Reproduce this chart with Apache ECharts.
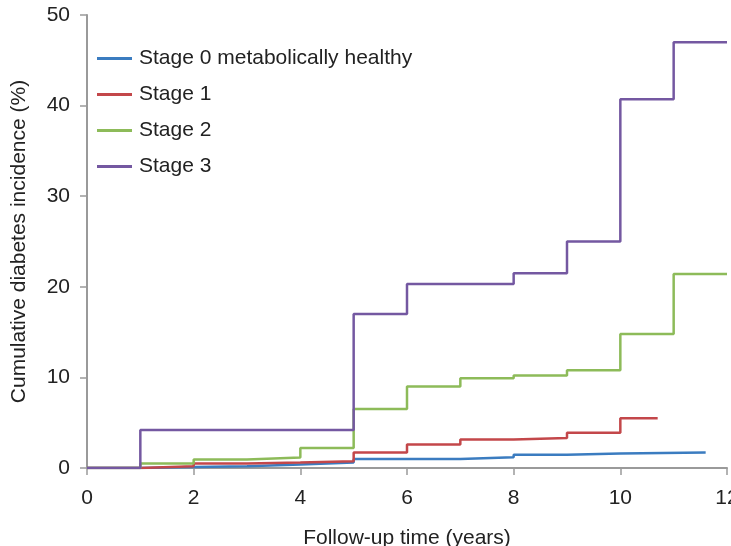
<!DOCTYPE html>
<html><head><meta charset="utf-8">
<script src="https://cdn.jsdelivr.net/npm/echarts@6/dist/echarts.min.js"></script>
<style>html,body{margin:0;padding:0;background:#fff;overflow:hidden}#c{width:731px;height:546px}</style>
</head><body><div id="c"></div>
<script>
var seriesNames = ['Stage 0 metabolically healthy', 'Stage 1', 'Stage 2', 'Stage 3'];
var stage0Times = [0, 1, 2, 3, 4, 5, 6, 7, 8, 9, 10, 11.6];
var stage0Values = [0, 0.1, 0.2, 0.4, 0.6, 1.0, 1.0, 1.2, 1.45, 1.6, 1.7, 1.7];
var stage1Times = [0, 1, 2, 3, 4, 5, 6, 7, 8, 9, 10, 10.7];
var stage1Values = [0, 0.2, 0.5, 0.6, 0.75, 1.7, 2.6, 3.15, 3.3, 3.9, 5.5, 5.5];
var stage2Times = [0, 1, 2, 3, 4, 5, 6, 7, 8, 9, 10, 11, 12];
var stage2Values = [0, 0.5, 0.95, 1.15, 2.2, 6.5, 9.0, 9.9, 10.2, 10.8, 14.8, 21.4, 21.4];
var stage3Times = [0, 1, 5, 6, 8, 9, 10, 11, 12];
var stage3Values = [0, 4.2, 17.0, 20.3, 21.5, 25.0, 40.7, 47.0, 47.0];
var colors = ['#3b7cc0', '#c3474a', '#8dbb59', '#7458a1'];
var xTicks = [0, 2, 4, 6, 8, 10, 12];
var yTicks = [0, 10, 20, 30, 40, 50];

function pairs(t, v) { return t.map(function (x, i) { return [x, v[i]]; }); }
var allT = [stage0Times, stage1Times, stage2Times, stage3Times];
var allV = [stage0Values, stage1Values, stage2Values, stage3Values];

var font = 'Liberation Sans, Arial, Helvetica, sans-serif';
var fs = 21;
var chart = echarts.init(document.getElementById('c'));
chart.setOption({
  animation: false,
  textStyle: { fontFamily: font },
  grid: { left: 87, right: 4, top: 15, bottom: 78, containLabel: false, outerBoundsMode: 'none' },
  legend: {
    orient: 'vertical', left: 92, top: 43, itemWidth: 35, itemHeight: 3, itemGap: 15,
    icon: 'rect',
    textStyle: { fontSize: fs, lineHeight: 21, color: '#222', fontFamily: font, padding: [0, 0, 0, 2] },
    data: seriesNames
  },
  xAxis: {
    type: 'value', min: 0, max: 12, interval: 2,
    name: 'Follow-up time (years)', nameLocation: 'middle', nameGap: 60,
    nameTextStyle: { fontSize: fs, color: '#222' },
    axisLine: { show: true, lineStyle: { color: '#9a9a9a', width: 2 } },
    axisTick: { show: true, length: 7, lineStyle: { color: '#9a9a9a', width: 1.5 } },
    axisLabel: { fontSize: fs, color: '#222', margin: 20, formatter: function (v) { return xTicks.indexOf(v) >= 0 ? String(v) : ''; } },
    splitLine: { show: false }
  },
  yAxis: {
    type: 'value', min: 0, max: 50, interval: 10,
    name: 'Cumulative diabetes incidence (%)', nameLocation: 'middle', nameGap: 57, nameRotate: 90,
    nameTextStyle: { fontSize: fs, color: '#222' },
    axisLine: { show: true, lineStyle: { color: '#9a9a9a', width: 2 } },
    axisTick: { show: true, length: 7, lineStyle: { color: '#9a9a9a', width: 1.5 } },
    axisLabel: { fontSize: fs, color: '#222', margin: 17, formatter: function (v) { return yTicks.indexOf(v) >= 0 ? String(v) : ''; } },
    splitLine: { show: false }
  },
  series: seriesNames.map(function (n, i) {
    return {
      name: n, type: 'line', step: 'end', symbol: 'none',
      data: pairs(allT[i], allV[i]),
      lineStyle: { color: colors[i], width: 2.5 },
      itemStyle: { color: colors[i] },
      z: 2 + i
    };
  })
});
</script></body></html>
